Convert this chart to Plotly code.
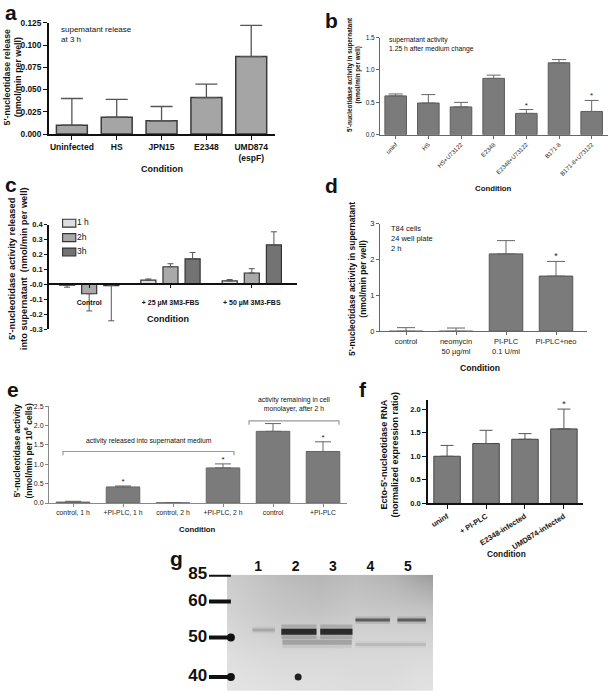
import plotly.graph_objects as go

W, H = 609, 696
def X(px): return px / W
def Y(py): return 1 - py / H

FONT = "Liberation Sans, Arial, sans-serif"

# ---------------- data ----------------
# panel a
a_cat = ["Uninfected", "HS", "JPN15", "E2348", "UMD874<br>(espF)"]
a_val = [0.010, 0.019, 0.015, 0.041, 0.087]
a_top = [0.040, 0.039, 0.031, 0.056, 0.122]

# panel b
b_cat = ["uninf", "HS", "HS+U73122", "E2348", "E2348+U73122", "B171-8", "B171-8+U73122"]
b_val = [0.60, 0.49, 0.43, 0.87, 0.33, 1.11, 0.36]
b_top = [0.63, 0.62, 0.50, 0.92, 0.39, 1.16, 0.53]
b_sig = [False, False, False, False, True, False, True]

# panel c
c_groups = ["Control", "+ 25 µM 3M3-FBS", "+ 50 µM 3M3-FBS"]
c_series = ["1 h", "2h", "3h"]
c_val = [[-0.004, 0.029, 0.024], [-0.062, 0.119, 0.077], [-0.007, 0.172, 0.265]]
c_end = [[-0.018, 0.037, 0.033], [-0.177, 0.139, 0.106], [-0.243, 0.214, 0.353]]
c_color = ["#dedede", "#a9a9a9", "#737373"]

# panel d
d_cat = ["control", "neomycin<br>50 µg/ml", "PI-PLC<br>0.1 U/ml", "PI-PLC+neo"]
d_val = [0.0, 0.0, 2.16, 1.54]
d_top = [0.10, 0.09, 2.53, 1.95]
d_sig = [False, False, False, True]

# panel e
e_cat = ["control, 1 h", "+PI-PLC, 1 h", "control, 2 h", "+PI-PLC, 2 h", "control", "+PI-PLC"]
e_val = [0.025, 0.415, 0.005, 0.907, 1.85, 1.33]
e_top = [0.045, 0.440, 0.010, 1.010, 2.05, 1.58]
e_sig = [False, True, False, True, False, True]
e_brackets = [
    ([-0.2, 3.22], 1.33, 1.60, "activity released into supernatant medium"),
    ([3.52, 5.32], 2.12, 2.54, "activity remaining in cell<br>monolayer, after 2 h"),
]

# panel f
f_cat = ["uninf", "+ PI-PLC", "E2348-infected", "UMD874-infected"]
f_val = [1.00, 1.27, 1.36, 1.58]
f_top = [1.23, 1.55, 1.48, 2.00]
f_sig = [False, False, False, True]

# panel g (western blot)
g_lanes = [1, 2, 3, 4, 5]
ladder_kda = ["85", "60", "50", "40"]
ladder_mig = [0.0, 0.23, 0.54, 0.88]
ladder_arrow = [False, False, True, True]
blot_x = [-0.3, 0.6, 1.6, 2.6, 3.6, 4.6, 5.3, 6.0]
blot_y = [-0.1, 0.1, 0.3, 0.5, 0.7, 0.9, 1.1]
blot_gray = [
    [205, 198, 182, 176, 184, 172, 150, 130],
    [210, 202, 192, 186, 192, 186, 176, 165],
    [216, 206, 198, 194, 200, 198, 196, 192],
    [222, 212, 206, 206, 210, 210, 210, 208],
    [226, 220, 216, 216, 216, 216, 218, 218],
    [228, 225, 222, 222, 220, 220, 224, 224],
    [230, 228, 226, 225, 222, 222, 226, 226],
]
# bands: lane start, lane end, migration, colour, halo colour, thickness(px)
band_x0 = [0.85, 1.62, 2.66, 1.65, 3.6, 4.72, 3.6]
band_x1 = [1.45, 2.56, 3.52, 3.5, 4.52, 5.48, 5.48]
band_mig = [0.475, 0.49, 0.49, 0.58, 0.39, 0.39, 0.60]
band_col = ["rgba(130,130,130,0.45)", "rgba(30,30,30,0.92)", "rgba(30,30,30,0.92)",
            "rgba(110,110,110,0.40)", "rgba(70,70,70,0.80)", "rgba(70,70,70,0.80)",
            "rgba(150,150,150,0.35)"]
band_halo = ["rgba(130,130,130,0.12)", "rgba(30,30,30,0.18)", "rgba(30,30,30,0.18)",
             "rgba(110,110,110,0.12)", "rgba(70,70,70,0.18)", "rgba(70,70,70,0.18)",
             "rgba(150,150,150,0.10)"]
band_w = [3, 6, 6, 5, 3, 3, 3]
spot_lane = [2.07]
spot_mig = [0.88]

# ---------------- figure ----------------
fig = go.Figure()

def axid(n):
    return ("x" if n == 1 else f"x{n}"), ("y" if n == 1 else f"y{n}")

def bar_panel(n, cats, vals, tops, fill, lcol, lw, cap, ecol, eth, width):
    xa, ya = axid(n)
    fig.add_trace(go.Bar(
        x=cats, y=vals, xaxis=xa, yaxis=ya, width=width, showlegend=False,
        marker=dict(color=fill, line=dict(color=lcol, width=lw)),
        error_y=dict(type="data", symmetric=False,
                     array=[t - v for t, v in zip(tops, vals)],
                     arrayminus=[0] * len(vals), color=ecol, thickness=eth, width=cap)))

def stars(n, cats, tops, sig, size=9):
    xa, ya = axid(n)
    xs = [c for c, s in zip(cats, sig) if s]
    ys = [t for t, s in zip(tops, sig) if s]
    fig.add_trace(go.Scatter(x=xs, y=ys, xaxis=xa, yaxis=ya, mode="text", text=["*"] * len(xs),
                             textposition="top center", textfont=dict(size=size, color="#222"),
                             showlegend=False, cliponaxis=False, hoverinfo="skip"))

e_pos = list(range(len(e_cat)))

bar_panel(1, a_cat, a_val, a_top, "#a5a5a5", "#3a3a3a", 1.5, 11, "#555", 1.3, 0.69)
bar_panel(2, b_cat, b_val, b_top, "#7b7b7b", "#5a5a5a", 1, 7, "#666", 1, 0.66)
stars(2, b_cat, b_top, b_sig, 8)

for k, s in enumerate(c_series):
    vals = c_val[k]
    ends = c_end[k]
    fig.add_trace(go.Bar(
        x=c_groups, y=vals, xaxis="x3", yaxis="y3", name=s, width=0.185,
        offset=(k - 1) * 0.272 - 0.0925, showlegend=False,
        marker=dict(color=c_color[k], line=dict(color="#333", width=1.2)),
        error_y=dict(type="data", symmetric=False,
                     array=[max(e - v, 0) for v, e in zip(vals, ends)],
                     arrayminus=[max(v - e, 0) for v, e in zip(vals, ends)],
                     color="#555", thickness=1, width=3)))

# hand-made legend for panel c (own small axes)
fig.add_trace(go.Bar(y=list(range(len(c_series))), x=[1.1] * len(c_series), base=0.05,
                     orientation="h", width=0.55, xaxis="x10", yaxis="y10", showlegend=False,
                     marker=dict(color=c_color, line=dict(color="#333", width=1.1)), hoverinfo="skip"))
fig.add_trace(go.Scatter(y=list(range(len(c_series))), x=[1.25] * len(c_series), text=c_series,
                         mode="text", textposition="middle right", xaxis="x10", yaxis="y10",
                         textfont=dict(size=8.5, color="#111", family=FONT), showlegend=False,
                         cliponaxis=False, hoverinfo="skip"))

bar_panel(4, d_cat, d_val, d_top, "#7b7b7b", "#555", 1, 9, "#666", 1, 0.67)
stars(4, d_cat, d_top, d_sig, 9)
bar_panel(5, e_pos, e_val, e_top, "#7b7b7b", "#666", 1, 8, "#666", 1, 0.67)
stars(5, e_pos, e_top, e_sig, 8)
bar_panel(6, f_cat, f_val, f_top, "#7b7b7b", "#444", 1, 6.5, "#555", 1, 0.68)
stars(6, f_cat, f_top, f_sig, 9)

# brackets in e
for (xr, yl, ty, txt) in e_brackets:
    fig.add_trace(go.Scatter(x=[xr[0], xr[0], xr[1], xr[1]], y=[yl - 0.1, yl, yl, yl - 0.1],
                             xaxis="x5", yaxis="y5", mode="lines",
                             line=dict(color="#9a9a9a", width=1.2), showlegend=False, hoverinfo="skip"))

# blot
fig.add_trace(go.Heatmap(x=blot_x, y=blot_y, z=blot_gray, xaxis="x7", yaxis="y7",
                         colorscale=[[0, "black"], [1, "white"]], zmin=0, zmax=255,
                         zsmooth="best", showscale=False, hoverinfo="skip"))
for x0, x1, m, col, halo, w in zip(band_x0, band_x1, band_mig, band_col, band_halo, band_w):
    fig.add_trace(go.Scatter(x=[x0, x1], y=[m, m], xaxis="x7", yaxis="y7", mode="lines",
                             line=dict(color=halo, width=w * 2.4),
                             showlegend=False, hoverinfo="skip"))
    fig.add_trace(go.Scatter(x=[x0, x1], y=[m, m], xaxis="x7", yaxis="y7", mode="lines",
                             line=dict(color=col, width=w), showlegend=False, hoverinfo="skip"))
fig.add_trace(go.Scatter(x=spot_lane, y=spot_mig, xaxis="x7", yaxis="y7", mode="markers",
                         marker=dict(color="#222", size=7), showlegend=False, hoverinfo="skip"))

# ladder
for lab, m, arr in zip(ladder_kda, ladder_mig, ladder_arrow):
    fig.add_trace(go.Scatter(x=[0.47, 0.9], y=[m, m], xaxis="x8", yaxis="y8", mode="lines",
                             line=dict(color="#111", width=4), showlegend=False,
                             cliponaxis=False, hoverinfo="skip"))
    if arr:
        fig.add_trace(go.Scatter(x=[0.9], y=[m], xaxis="x8", yaxis="y8", mode="markers",
                                 marker=dict(symbol="circle", size=8, color="#111"),
                                 showlegend=False, cliponaxis=False, hoverinfo="skip"))
fig.add_trace(go.Scatter(x=[0.25] * len(ladder_kda), y=ladder_mig, xaxis="x8", yaxis="y8",
                         mode="text", text=ladder_kda, textposition="middle center",
                         textfont=dict(size=17, color="#111", weight="bold", family=FONT),
                         showlegend=False, cliponaxis=False, hoverinfo="skip"))

# ---------------- axes ----------------
def ax(dom, rng, lc, lw, tf, anchor, **kw):
    d = dict(domain=dom, range=rng, showline=True, linecolor=lc, linewidth=lw,
             ticks="outside", ticklen=3, tickwidth=1, tickcolor=lc, showgrid=False,
             zeroline=False, tickfont=tf, anchor=anchor, fixedrange=True)
    d.update(kw)
    return d

bold = lambda s: dict(size=s, color="#111", weight="bold", family=FONT)
reg = lambda s: dict(size=s, color="#222", family=FONT)

E_YDOM = [Y(505.3), Y(407)]
E_YRNG = [0, 2.5]
E_XDOM = [X(49), X(347)]
E_XRNG = [-0.48, 5.48]

layout_axes = dict(
    xaxis=ax([X(49), X(275)], [-0.51, 4.53], "#111", 2, bold(8.5), "y", type="category", ticklen=4),
    yaxis=ax([Y(131), Y(18)], [0, 0.125], "#111", 2, bold(8.3), "x",
             tickvals=[0, 0.025, 0.05, 0.075, 0.1, 0.125], tickformat=".3f", ticklen=4),
    xaxis2=ax([X(380), X(608)], [-0.48, 6.5], "#666", 1, reg(6), "y2", type="category", tickangle=-45),
    yaxis2=ax([Y(131.7), Y(33)], [0, 1.5], "#666", 1, reg(6.5), "x2",
              tickvals=[0, 0.5, 1.0, 1.5], tickformat=".1f"),
    xaxis3=ax([X(49), X(297)], [-0.494, 2.556], "#111", 1.5, bold(7), "free", type="category",
              position=Y(283.3), ticklabelstandoff=9),
    yaxis3=ax([Y(329), Y(223)], [-0.3, 0.4], "#111", 1.5, bold(7.5), "x3",
              tickvals=[-0.3, -0.2, -0.1, 0, 0.1, 0.2, 0.3, 0.4],
              ticktext=["-0.3", "-0.2", "-0.1", "-0.0", "0.1", "0.2", "0.3", "0.4"]),
    xaxis4=ax([X(380), X(587)], [-0.52, 3.62], "#666", 1, reg(7.5), "y4", type="category"),
    yaxis4=ax([Y(331), Y(222)], [0, 3], "#666", 1, reg(7.5), "x4", tickvals=[0, 1, 2, 3]),
    xaxis5=ax(E_XDOM, E_XRNG, "#888", 1, reg(6.8), "y5", tickvals=e_pos, ticktext=e_cat),
    yaxis5=ax(E_YDOM, E_YRNG, "#888", 1, reg(7), "x5",
              tickvals=[0, 0.5, 1, 1.5, 2, 2.5], tickformat=".1f"),
    xaxis6=ax([X(428), X(583)], [-0.49, 3.49], "#111", 1.5, bold(7.5), "y6", type="category",
              tickangle=-32, ticklen=4),
    yaxis6=ax([Y(505.7), Y(400.4)], [0, 2.2], "#111", 1.5, bold(7.5), "x6",
              tickvals=[0, 0.5, 1, 1.5, 2], tickformat=".1f", ticklen=4),
    xaxis7=dict(domain=[X(227), X(433)], range=[0.17, 5.67], anchor="y7", side="top",
                showline=False, showgrid=False, zeroline=False, ticks="", tickvals=g_lanes,
                tickfont=bold(14), fixedrange=True),
    yaxis7=dict(domain=[Y(696), Y(578)], range=[1.0, 0.0], anchor="x7", showline=False,
                showgrid=False, zeroline=False, showticklabels=False, ticks="", fixedrange=True),
    xaxis8=dict(domain=[X(185), X(236)], range=[0, 1], anchor="y8", visible=False, fixedrange=True),
    yaxis8=dict(domain=[Y(696), Y(578)], range=[1.0, 0.0], anchor="x8", visible=False, fixedrange=True),
    xaxis10=dict(domain=[X(62), X(110)], range=[0, 4], anchor="y10", visible=False, fixedrange=True),
    yaxis10=dict(domain=[Y(258), Y(214)], range=[2.5, -0.5], anchor="x10", visible=False, fixedrange=True),
)

def ann(text, x, y, size, b=True, angle=0, xanchor="center", yanchor="middle", align="center",
        color="#111"):
    t = f"<b>{text}</b>" if b else text
    return dict(text=t, x=x, y=y, xref="paper", yref="paper", showarrow=False, textangle=angle,
                xanchor=xanchor, yanchor=yanchor, align=align,
                font=dict(size=size, color=color, family=FONT))

def to_paper(v, dom, rng):
    return dom[0] + (v - rng[0]) / (rng[1] - rng[0]) * (dom[1] - dom[0])

anns = [
    # panel letters
    ann("a", X(3), Y(8), 21, xanchor="left"),
    ann("b", X(323), Y(16), 21, xanchor="left"),
    ann("c", X(3), Y(182), 21, xanchor="left"),
    ann("d", X(323), Y(183), 21, xanchor="left"),
    ann("e", X(5), Y(390), 21, xanchor="left"),
    ann("f", X(357), Y(390), 21, xanchor="left"),
    ann("g", X(168), Y(562), 21, xanchor="left"),
    # y titles
    ann("5'-nucleotidase release<br>(nmol/min per well)", X(12.5), Y(73), 8.8, angle=-90),
    ann("5'-nucleotidase activity in supernatant<br>(nmol/min per well)", X(354), Y(71), 6.3, angle=-90),
    ann("5'-nucleotidase activity released<br>into supernatant  (nmol/min per well)", X(18), Y(268), 9.3, angle=-90),
    ann("5'-nucleotidase activity in supernatant<br>(nmol/min per well)", X(357), Y(278), 8.5, angle=-90),
    ann("5'-nucleotidase activity<br>(nmol/min per 10<sup>6</sup> cells)", X(23), Y(452), 8.5, angle=-90),
    ann("Ecto-5'-nucleotidase RNA<br>(normalized expression ratio)", X(390), Y(456), 9, angle=-90),
    # x titles
    ann("Condition", X(162), Y(166), 9),
    ann("Condition", X(493), Y(186), 7.8),
    ann("Condition", X(168), Y(319), 9),
    ann("Condition", X(480), Y(368), 8.6),
    ann("Condition", X(197), Y(532), 7.8),
    ann("Condition", X(506), Y(557), 8.3),
    # in-plot notes
    ann("supematant release<br>at 3 h", X(59), Y(18), 8, b=False, xanchor="left", yanchor="top", align="left"),
    ann("supernatant activity<br>1.25 h after medium change", X(387), Y(29), 6.8, b=False,
        xanchor="left", yanchor="top", align="left"),
    ann("T84 cells<br>24 well plate<br>2 h", X(389), Y(220), 7.5, b=False,
        xanchor="left", yanchor="top", align="left"),
]
for (xr, yl, ty, txt) in e_brackets:
    anns.append(ann(txt, to_paper((xr[0] + xr[1]) / 2, E_XDOM, E_XRNG), to_paper(ty, E_YDOM, E_YRNG),
                    6.8, b=False))

fig.update_layout(
    width=W, height=H, margin=dict(l=0, r=0, t=0, b=0),
    paper_bgcolor="white", plot_bgcolor="rgba(0,0,0,0)",
    font=dict(family=FONT, color="#111"),
    barmode="overlay", showlegend=False,
    annotations=anns,
    **layout_axes,
)

fig.write_html("out.html", config={"displayModeBar": False},
               post_script="document.body.style.margin='0';document.body.style.overflow='hidden';")
